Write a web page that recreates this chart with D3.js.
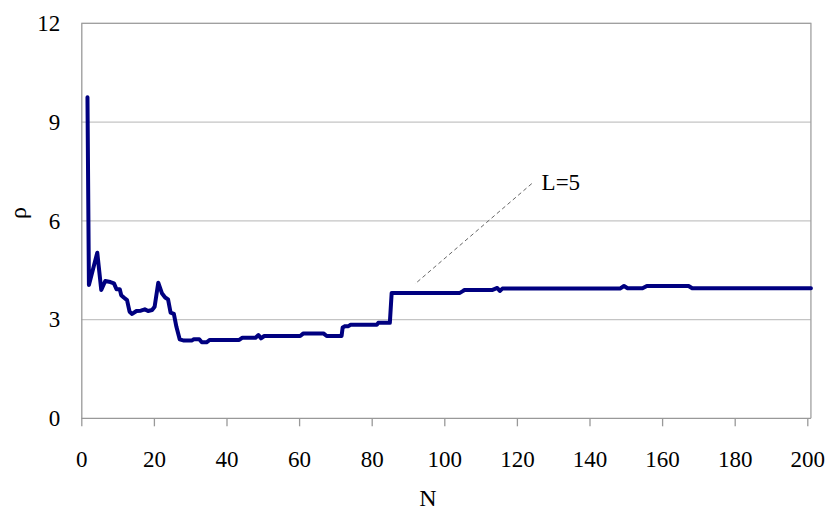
<!DOCTYPE html>
<html>
<head>
<meta charset="utf-8">
<script src="https://cdn.jsdelivr.net/npm/d3@7"></script>
<style>
  html, body { margin: 0; padding: 0; background: #fff; }
  svg { display: block; }
  text { font-family: "Liberation Serif", "Times New Roman", serif; fill: #000; }
</style>
</head>
<body>
<svg id="chart" width="832" height="510"></svg>
<script>
// Sample sizes N and the estimated ρ at each step
const nValues = [1.7, 2.1, 4.4, 5.5, 6.6, 8.0, 9.0, 9.7, 10.6, 11.0, 11.7, 12.6, 13.3, 14.0, 15.2, 16.4,
  17.5, 18.4, 19.5, 20.2, 21.2, 22.2, 23.1, 23.9, 24.6, 25.5, 26.2, 27.1, 28.3, 30.4, 31.0, 32.5,
  33.2, 34.5, 35.4, 43.5, 44.4, 48.0, 48.8, 49.5, 50.4, 60.3, 61.2, 66.7, 67.6, 71.7, 72.0, 72.7,
  73.6, 74.2, 81.4, 81.8, 85.0, 85.5, 104.3, 105.2, 105.5, 113.3, 114.6, 115.3, 116.0, 148.4,
  149.5, 150.5, 154.6, 155.8, 167.3, 168.3, 201];
const rhoValues = [9.75, 4.05, 5.03, 3.9, 4.17, 4.14, 4.1, 3.92, 3.92, 3.74, 3.67, 3.59, 3.24, 3.17, 3.26, 3.27,
  3.31, 3.26, 3.29, 3.39, 4.12, 3.8, 3.67, 3.61, 3.21, 3.17, 2.78, 2.4, 2.36, 2.36, 2.4, 2.4,
  2.31, 2.31, 2.38, 2.38, 2.45, 2.45, 2.53, 2.43, 2.5, 2.5, 2.58, 2.58, 2.5, 2.5, 2.76, 2.8,
  2.8, 2.84, 2.84, 2.9, 2.9, 3.81, 3.81, 3.87, 3.9, 3.9, 3.96, 3.87, 3.94, 3.94,
  4.02, 3.95, 3.95, 4.02, 4.02, 3.95, 3.95];

const xTicks = [0, 20, 40, 60, 80, 100, 120, 140, 160, 180, 200];
const yTicks = [0, 3, 6, 9, 12];

// Annotation: label text and its leader line, in data units
const noteText = "L=5";
const notePos = [126.8, 6.93];
const leaderFrom = [124.1, 7.13];
const leaderTo = [91.9, 4.08];

const svg = d3.select("#chart");
const x = d3.scaleLinear().domain([0, 200]).range([81.3, 807.3]);
const y = d3.scaleLinear().domain([0, 12]).range([418.3, 23.3]);
const xMaxFrame = 201;

// Horizontal gridlines
svg.append("g")
  .selectAll("line")
  .data(yTicks.filter(d => d > 0))
  .join("line")
  .attr("x1", x(0)).attr("x2", x(xMaxFrame))
  .attr("y1", d => y(d)).attr("y2", d => y(d))
  .attr("stroke", "#c4c4c4").attr("stroke-width", 1.3);

// Plot frame on the right and top
svg.append("path")
  .attr("d", `M${x(0)},${y(12)}H${x(xMaxFrame)}V${y(0)}`)
  .attr("fill", "none").attr("stroke", "#a0a0a0").attr("stroke-width", 1.3);

// X axis
const xAxis = svg.append("g")
  .attr("transform", `translate(0,${y(0)})`)
  .call(d3.axisBottom(x).tickValues(xTicks).tickSize(8).tickPadding(24).tickSizeOuter(0));
xAxis.select(".domain").attr("d", `M${x(0)},0H${x(xMaxFrame)}`).attr("stroke", "#999").attr("stroke-width", 1.3);
xAxis.selectAll(".tick line").attr("stroke", "#999").attr("stroke-width", 1.3);
xAxis.selectAll(".tick text").style("font-size", "23px").attr("dy", "0.71em");

// Y axis
const yAxis = svg.append("g")
  .attr("transform", `translate(${x(0)},0)`)
  .call(d3.axisLeft(y).tickValues(yTicks).tickSize(0).tickPadding(21));
yAxis.select(".domain").attr("stroke", "#999").attr("stroke-width", 1.3);
yAxis.selectAll(".tick text").style("font-size", "23px");

// Axis titles
svg.append("text")
  .attr("x", 428).attr("y", 506)
  .attr("text-anchor", "middle")
  .style("font-size", "24px")
  .text("N");
svg.append("text")
  .attr("transform", `translate(26,213) rotate(-90)`)
  .attr("text-anchor", "middle")
  .style("font-size", "24px")
  .text("ρ");

// Series line
const pts = nValues.map((n, i) => [n, rhoValues[i]]);
svg.append("path")
  .datum(pts)
  .attr("fill", "none")
  .attr("stroke", "#000080")
  .attr("stroke-width", 4)
  .attr("stroke-linejoin", "round")
  .attr("stroke-linecap", "round")
  .attr("d", d3.line().x(d => x(d[0])).y(d => y(d[1])));

// Annotation
svg.append("line")
  .attr("x1", x(leaderFrom[0])).attr("y1", y(leaderFrom[1]))
  .attr("x2", x(leaderTo[0])).attr("y2", y(leaderTo[1]))
  .attr("stroke", "#666").attr("stroke-width", 1)
  .attr("stroke-dasharray", "4,3");
svg.append("text")
  .attr("x", x(notePos[0])).attr("y", y(notePos[1]))
  .style("font-size", "23px")
  .text(noteText);
</script>
</body>
</html>
